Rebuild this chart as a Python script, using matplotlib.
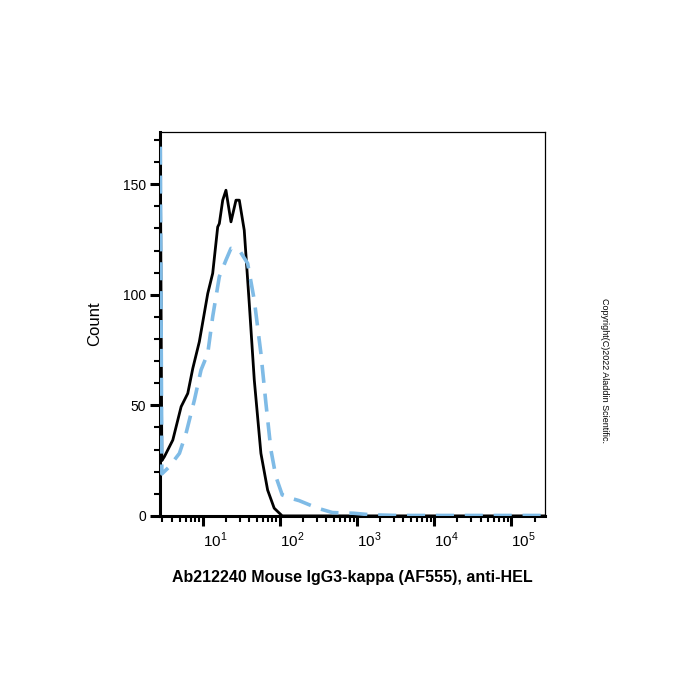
import numpy as np
import matplotlib
matplotlib.use('Agg')
import matplotlib.pyplot as plt
from matplotlib.ticker import LogLocator, MultipleLocator, FixedLocator

plt.rcParams['font.family'] = ['Liberation Sans', 'DejaVu Sans']
plt.rcParams['mathtext.fontset'] = 'custom'
plt.rcParams['mathtext.rm'] = 'Liberation Sans'

# log10 of fluorescence and counts
sample_log = [0.45, 0.47, 0.503, 0.612, 0.72, 0.806, 0.871, 0.956, 1.065, 1.129, 1.194, 1.215,
              1.259, 1.301, 1.366, 1.431, 1.474, 1.538, 1.603, 1.668, 1.754, 1.841, 1.926, 2.03, 5.5]
sample_cnt = [167, 25, 26.8, 34.3, 49.4, 55.4, 66.7, 78.8, 100.6, 109.7, 130.7, 132.2,
              142.8, 147.3, 133, 142.8, 142.8, 129.2, 96.1, 61.5, 28.3, 11.7, 3.5, 0, 0]

control_log = [0.45, 0.47, 0.56, 0.698, 0.784, 0.892, 0.978, 1.065, 1.129, 1.215, 1.301, 1.366,
               1.474, 1.582, 1.668, 1.754, 1.819, 1.884, 1.948, 2.03, 2.14, 2.25, 2.488, 2.682,
               2.957, 3.177, 3.52, 5.5]
control_cnt = [167, 19, 22, 28.3, 37.4, 52.4, 66, 73.5, 90.1, 108.2, 115.7, 121,
               120.2, 114.2, 97.6, 73.5, 50.9, 29.8, 17.8, 9.5, 8, 6.9, 3.5, 1.5,
               1.2, 0.5, 0.2, 0.2]

fig = plt.figure(figsize=(7, 7), dpi=100)
ax = fig.add_axes([0.229, 0.263, 0.55, 0.548])

ax.plot(10 ** np.array(sample_log), sample_cnt, color='black', lw=2.0, zorder=3)
ax.plot(10 ** np.array(control_log), control_cnt, color='#7fbbe6', lw=2.6,
        dashes=(5, 3), zorder=4)

ax.set_xscale('log')
ax.set_xlim(10 ** 0.45, 10 ** 5.44)
ax.set_ylim(0, 173.5)

ax.xaxis.set_major_locator(FixedLocator([10, 100, 1000, 10000, 100000]))
ax.xaxis.set_minor_locator(LogLocator(base=10, subs=np.arange(2, 10), numticks=20))
ax.set_xticklabels(['10$^{1}$', '10$^{2}$', '10$^{3}$', '10$^{4}$', '10$^{5}$'])
ax.yaxis.set_major_locator(MultipleLocator(50))
ax.yaxis.set_minor_locator(MultipleLocator(10))

ax.tick_params(axis='both', which='major', direction='out', length=7, width=2.2,
               labelsize=10, pad=3)
ax.tick_params(axis='both', which='minor', direction='out', length=4, width=1.5)
ax.tick_params(axis='x', which='major', pad=4, labelsize=11)
for lbl in ax.get_xticklabels():
    lbl.set_horizontalalignment('left')

for s in ['left', 'bottom']:
    ax.spines[s].set_linewidth(2.2)
for s in ['top', 'right']:
    ax.spines[s].set_linewidth(0.9)

ax.set_ylabel('Count', fontsize=12, labelpad=15)
ax.set_xlabel('Ab212240 Mouse IgG3-kappa (AF555), anti-HEL', fontsize=11.5,
              fontweight='bold', labelpad=14)

fig.text(0.864, 0.47, 'Copyright(C)2022 Aladdin Scientific.', rotation=-90,
         fontsize=6.5, ha='center', va='center')

fig.savefig('out.png', dpi=100)
